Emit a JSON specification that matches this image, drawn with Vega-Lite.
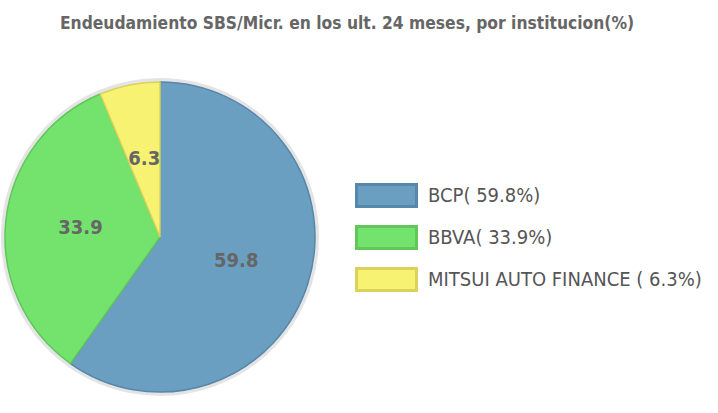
{
  "$schema": "https://vega.github.io/schema/vega-lite/v6.json",
  "autosize": "none",
  "padding": {"left": 0, "top": 79, "right": 398, "bottom": 18},
  "width": 320,
  "height": 316,
  "background": "white",
  "title": {
    "text": "Endeudamiento SBS/Micr. en los ult. 24 meses, por institucion(%)",
    "anchor": "start",
    "dx": 65,
    "offset": 40,
    "font": "Liberation Sans Narrow, DejaVu Sans Condensed, Roboto, sans-serif",
    "fontSize": 17.3,
    "fontWeight": "bold",
    "color": "#666666"
  },
  "data": {
    "values": [
      {"inst": "BCP", "label": "BCP( 59.8%)", "value": 59.8, "ord": 1},
      {"inst": "BBVA", "label": "BBVA( 33.9%)", "value": 33.9, "ord": 2},
      {"inst": "MITSUI AUTO FINANCE", "label": "MITSUI AUTO FINANCE (  6.3%)", "value": 6.3, "ord": 3}
    ]
  },
  "config": {"view": {"stroke": null}},
  "layer": [
    {
      "mark": {"type": "arc", "radius": 157, "stroke": "#e4e4e4", "strokeWidth": 4},
      "encoding": {
        "theta": {"field": "value", "type": "quantitative", "stack": true},
        "order": {"field": "ord", "type": "ordinal"}
      }
    },
    {
      "mark": {"type": "arc", "radius": 155, "strokeWidth": 1.5},
      "encoding": {
        "theta": {"field": "value", "type": "quantitative", "stack": true},
        "order": {"field": "ord", "type": "ordinal"},
        "color": {
          "field": "label",
          "type": "nominal",
          "sort": null,
          "scale": {
            "domain": ["BCP( 59.8%)", "BBVA( 33.9%)", "MITSUI AUTO FINANCE (  6.3%)"],
            "range": ["#6a9fc2", "#74e36e", "#f7f271"]
          },
          "legend": {
            "title": null,
            "orient": "none",
            "legendX": 370,
            "legendY": 100,
            "symbolType": "M-2,-0.73L2,-0.73L2,0.73L-2,0.73Z",
            "symbolSize": 900,
            "symbolStrokeColor": "#e0e0e0",
            "symbolStrokeWidth": 3,
            "symbolOpacity": 1,
            "rowPadding": 7,
            "labelFont": "Liberation Sans Narrow, DejaVu Sans Condensed, Roboto, sans-serif",
            "labelFontSize": 20,
            "labelColor": "#555555",
            "labelOffset": 25,
            "labelLimit": 400
          }
        },
        "stroke": {
          "field": "label",
          "type": "nominal",
          "sort": null,
          "scale": {
            "domain": ["BCP( 59.8%)", "BBVA( 33.9%)", "MITSUI AUTO FINANCE (  6.3%)"],
            "range": ["#5787ab", "#60c75a", "#d9d35c"]
          },
          "legend": null
        }
      }
    },
    {
      "mark": {"type": "text", "radius": 80, "font": "Liberation Sans Narrow, DejaVu Sans Condensed, Roboto, sans-serif", "fontSize": 20, "fontWeight": "bold", "color": "#666666"},
      "encoding": {
        "theta": {"field": "value", "type": "quantitative", "stack": true},
        "order": {"field": "ord", "type": "ordinal"},
        "text": {"field": "value", "type": "quantitative", "format": ".1f"}
      }
    }
  ]
}
